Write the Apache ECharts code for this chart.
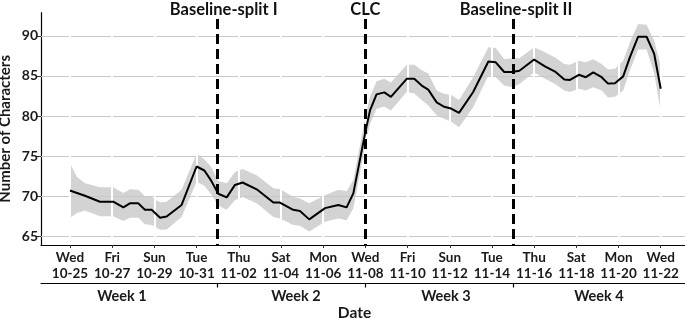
<!DOCTYPE html>
<html>
<head>
<meta charset="utf-8">
<script src="https://cdn.jsdelivr.net/npm/echarts@6/dist/echarts.min.js"></script>
<style>
  html, body { margin: 0; padding: 0; background: #fff; }
  #main { width: 685px; height: 319px; }
</style>
</head>
<body>
<div id="main"></div>
<script>
// days counted from Wed 10-25
var days = [0.00, 0.33, 0.71, 1.42, 2.05, 2.53, 2.84, 3.24, 3.55, 3.87, 4.27, 4.58, 5.29, 6.00, 6.37, 6.70,
  7.03, 7.43, 7.82, 8.18, 8.85, 9.64, 9.95, 10.58, 10.90, 11.34, 12.09, 12.72, 13.11, 13.43,
  14.03, 14.22, 14.53, 14.90, 15.21, 15.96, 16.32, 16.67, 16.98, 17.38, 17.70, 18.09, 18.44, 19.11, 19.83, 20.18, 20.58, 20.96,
  21.30, 22.00, 22.51, 22.99, 23.43, 23.70, 24.12, 24.45, 24.80, 25.20, 25.50, 25.83, 26.22, 26.54, 26.93, 27.33, 27.69, 28.00]
var meanChars = [70.7, 70.4, 70.05, 69.3, 69.3, 68.6, 69.1, 69.1, 68.3, 68.3, 67.3, 67.45, 68.9, 73.7, 73.2, 71.9,
  70.3, 69.85, 71.4, 71.7, 70.85, 69.2, 69.2, 68.3, 68.15, 67.1, 68.5, 68.9, 68.6, 70.35,
  78.4, 80.7, 82.7, 82.95, 82.4, 84.65, 84.65, 83.8, 83.3, 81.7, 81.2, 80.9, 80.4, 83.0, 86.8, 86.7, 85.5, 85.5,
  85.65, 87.05, 86.2, 85.55, 84.55, 84.5, 85.15, 84.85, 85.45, 84.85, 84.05, 84.1, 84.95, 87.35, 89.9, 89.9, 87.75, 83.4]
var lowerCI = [67.3, 67.9, 68.2, 67.5, 67.5, 66.9, 67.3, 67.3, 66.5, 66.4, 65.8, 65.85, 67.4, 71.8, 71.3, 70.2,
  68.8, 68.3, 69.5, 69.9, 69.1, 67.4, 67.2, 66.4, 66.3, 65.6, 66.8, 67.2, 67.0, 68.5,
  76.9, 79.0, 80.9, 81.2, 80.7, 83.0, 82.8, 82.0, 81.3, 80.1, 79.7, 79.25, 78.6, 81.1, 85.05, 84.85, 83.8, 83.6,
  84.0, 85.45, 84.65, 84.0, 83.2, 83.0, 83.4, 83.2, 83.6, 83.2, 82.3, 82.4, 83.2, 85.7, 88.3, 88.3, 85.3, 80.6]
var upperCI = [74.1, 72.4, 71.6, 71.1, 71.1, 70.4, 70.85, 70.8, 70.0, 69.9, 69.2, 69.3, 70.8, 75.3, 74.6, 73.6,
  71.9, 71.6, 73.0, 73.4, 72.6, 71.0, 70.9, 69.9, 69.7, 69.1, 70.1, 70.8, 70.6, 72.0,
  80.3, 82.4, 84.35, 84.65, 84.2, 86.4, 86.4, 85.7, 85.3, 83.2, 82.8, 82.6, 82.0, 84.85, 88.6, 88.5, 87.1, 87.2,
  87.2, 88.6, 87.95, 87.3, 86.5, 86.4, 86.9, 86.7, 87.1, 86.5, 85.8, 85.9, 86.9, 89.2, 91.5, 91.4, 89.4, 86.3]

var tickDays = [0, 2, 4, 6, 8, 10, 12, 14, 16, 18, 20, 22, 24, 26, 28]
var tickLabels = ['Wed\n10-25', 'Fri\n10-27', 'Sun\n10-29', 'Tue\n10-31', 'Thu\n11-02', 'Sat\n11-04', 'Mon\n11-06',
  'Wed\n11-08', 'Fri\n11-10', 'Sun\n11-12', 'Tue\n11-14', 'Thu\n11-16', 'Sat\n11-18', 'Mon\n11-20', 'Wed\n11-22']
var yTicks = [65, 70, 75, 80, 85, 90]
var weeks = ['Week 1', 'Week 2', 'Week 3', 'Week 4']
var splitDays = [7, 14, 21]
var splitNames = ['Baseline-split I', 'CLC', 'Baseline-split II']

// where the week names sit under the second axis line
var weekLabelAt = [2.46, 10.71, 17.82, 25.07]
// small nudges of the annotation texts, px
var splitNudge = [6, 0, 3]

var font = 'Lato, "Open Sans", sans-serif'
var yMin = 63.9, yMax = 92.9

var chart = echarts.init(document.getElementById('main'), null, { renderer: 'canvas' })

var gridLines = yTicks.map(function (v) {
  return { yAxis: v, lineStyle: { color: '#c8c8c8', width: 1, type: 'solid' } }
})
var whiteCuts = tickDays.map(function (d) {
  return { xAxis: d, lineStyle: { color: '#ffffff', width: 2, type: 'solid' } }
})

var option = {
  animation: false,
  textStyle: { fontFamily: font },
  grid: { left: 41, right: 0, top: 12.7, bottom: 74, containLabel: false, outerBoundsMode: 'none' },
  xAxis: [
    {
      type: 'value',
      min: -1.374,
      max: 29.15,
      position: 'bottom',
      axisLine: { show: true, onZero: false, lineStyle: { color: '#000', width: 1.2 } },
      axisTick: { show: true, customValues: tickDays, length: 3, lineStyle: { color: '#333', width: 1 } },
      axisLabel: {
        customValues: tickDays,
        formatter: function (v) { return tickLabels[tickDays.indexOf(v)] || '' },
        fontFamily: font, fontWeight: 'bold', fontSize: 13.5, color: '#1a1a1a',
        lineHeight: 15.5, margin: 5
      },
      splitLine: { show: false }
    },
    {
      type: 'value',
      min: -1.374,
      max: 29.15,
      position: 'bottom',
      offset: 38.5,
      axisLine: { show: true, onZero: false, lineStyle: { color: '#000', width: 1.2 } },
      axisTick: { show: true, customValues: splitDays, length: 4, lineStyle: { color: '#000', width: 1.2 } },
      axisLabel: {
        customValues: weekLabelAt,
        formatter: function (v) { return weeks[weekLabelAt.indexOf(v)] || '' },
        fontFamily: font, fontWeight: 'bold', fontSize: 14.5, color: '#1a1a1a', margin: 5
      },
      splitLine: { show: false },
      name: 'Date',
      nameLocation: 'middle',
      nameGap: 21,
      nameMoveOverlap: false,
      nameTextStyle: { fontFamily: font, fontWeight: 'bold', fontSize: 15.5, color: '#1a1a1a', padding: [0, 17, 0, 0] }
    }
  ],
  yAxis: {
    type: 'value',
    min: yMin,
    max: yMax,
    axisLine: { show: true, onZero: false, lineStyle: { color: '#000', width: 1.2 } },
    axisTick: { show: true, customValues: yTicks, length: 5, lineStyle: { color: '#333', width: 1 } },
    axisLabel: {
      customValues: yTicks,
      fontFamily: font, fontWeight: 'bold', fontSize: 14, color: '#1a1a1a', margin: 3
    },
    splitLine: { show: false },
    name: 'Number of Characters',
    nameLocation: 'middle',
    nameGap: 28,
    nameMoveOverlap: false,
    nameTextStyle: { fontFamily: font, fontWeight: 'bold', fontSize: 15, color: '#1a1a1a' }
  },
  series: [
    {
      // background grid
      type: 'line',
      data: [],
      z: 1,
      silent: true,
      markLine: {
        silent: true,
        symbol: 'none',
        animation: false,
        label: { show: false },
        data: gridLines.concat(whiteCuts)
      }
    },
    {
      // grey band
      type: 'custom',
      z: 2,
      silent: true,
      data: days.map(function (d, i) { return [d, lowerCI[i], upperCI[i]] }),
      encode: { x: 0, y: [1, 2] },
      renderItem: function (params, api) {
        if (params.dataIndex !== 0) return
        var pts = []
        for (var i = 0; i < days.length; i++) pts.push(api.coord([days[i], upperCI[i]]))
        for (var j = days.length - 1; j >= 0; j--) pts.push(api.coord([days[j], lowerCI[j]]))
        return { type: 'polygon', shape: { points: pts }, style: { fill: '#d3d3d3' } }
      }
    },
    {
      name: 'Number of Characters',
      type: 'line',
      z: 5,
      showSymbol: false,
      data: days.map(function (d, i) { return [d, meanChars[i]] }),
      lineStyle: { color: '#000', width: 2 },
      markLine: {
        silent: true,
        symbol: 'none',
        animation: false,
        lineStyle: { color: '#000', width: 3, type: [10, 5] },
        label: {
          show: true,
          position: 'start',
          formatter: '{b}',
          distance: 1,
          fontFamily: font, fontWeight: 'bold', fontSize: 16.5, color: '#111'
        },
        data: splitDays.map(function (d, i) {
          return [
            { name: splitNames[i], coord: [d, 92.1], label: { offset: [splitNudge[i], 0] } },
            { coord: [d, yMin] }
          ]
        })
      }
    }
  ]
}
chart.setOption(option)
</script>
</body>
</html>
